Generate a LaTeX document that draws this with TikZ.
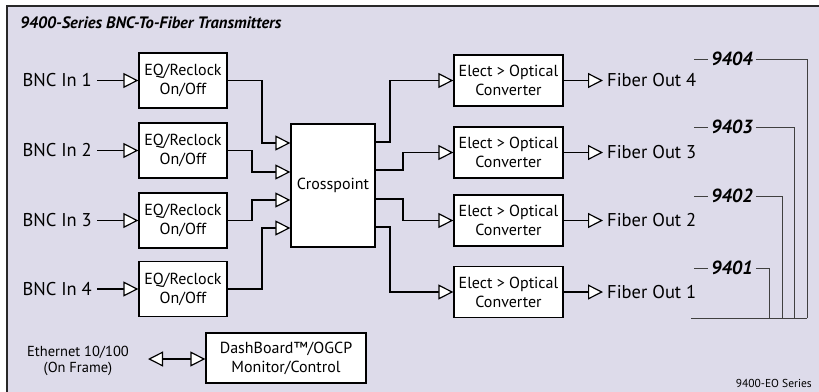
\documentclass[tikz,border=0pt]{standalone}
\usepackage{fontspec}
\setmainfont{PT Sans}
\usetikzlibrary{arrows.meta}
\definecolor{bgc}{RGB}{221,219,234}
\definecolor{framec}{RGB}{40,40,40}
\tikzset{
  blk/.style={draw=black, fill=white, line width=1.3pt, align=center, inner sep=0pt, font=\fontsize{16}{19}\selectfont},
  eqbox/.style={blk, minimum width=88pt, minimum height=55pt},
  eobox/.style={blk, minimum width=109pt, minimum height=51pt},
  lbl/.style={font=\fontsize{18.5}{21}\selectfont, inner sep=0pt},
  mdl/.style={font=\fontsize{19}{22}\selectfont\bfseries\itshape, inner sep=0pt},
  wire/.style={line width=1.3pt, draw=black},
  arr/.style={wire, -{Triangle[fill=white, length=15pt, width=15pt, line width=1.2pt]}},
  darr/.style={wire, {Triangle[fill=white, length=15pt, width=15pt, line width=1.2pt]}-{Triangle[fill=white, length=15pt, width=15pt, line width=1.2pt]}},
  thin/.style={line width=0.9pt, draw=black!75},
}
\begin{document}
\begin{tikzpicture}[x=1pt, y=-1pt]
\useasboundingbox (0,0) rectangle (819,391);
\draw[fill=bgc, draw=framec, line width=2pt] (7,6) rectangle (830,400);
\node[anchor=west, font=\fontsize{16.5}{19}\selectfont\bfseries\itshape, inner sep=0pt] (title) at (20,23) {9400-Series BNC-To-Fiber Transmitters};

% EQ boxes
\foreach \i/\y in {1/80.5, 2/150.5, 3/220.5, 4/289} {
  \node[eqbox] (eq\i) at (183,\y) {EQ/Reclock\\On/Off};
  \node[lbl, anchor=east, inner xsep=5pt] (bnc\i) at (97,\y) {BNC In \i};
  \draw[arr] (bnc\i) -- (eq\i);
}

% Crosspoint
\node[blk, minimum width=84pt, minimum height=123pt] (cp) at (333,185.5) {Crosspoint};
\draw[arr] (eq1.east) -| (262,143) -- (cp.west |- 0,143);
\draw[arr] (eq2.east) -| (252,172) -- (cp.west |- 0,172);
\draw[arr] (eq3.east) -| (252,200) -- (cp.west |- 0,200);
\draw[arr] (eq4.east) -| (262,228) -- (cp.west |- 0,228);

% EO boxes
\foreach \i/\y/\n in {1/80.5/4, 2/152.5/3, 3/220.5/2, 4/292/1} {
  \node[eobox] (eo\i) at (508.5,\y) {Elect > Optical\\Converter};
  \node[lbl, anchor=west, inner xsep=4pt] (fo\i) at (603,\y) {Fiber Out \n};
  \draw[arr] (eo\i) -- (fo\i);
}
\draw[arr] (cp.east |- 0,142) -| (390,80.5) -- (eo1.west);
\draw[arr] (cp.east |- 0,170) -| (403,152.5) -- (eo2.west);
\draw[arr] (cp.east |- 0,199) -| (403,220.5) -- (eo3.west);
\draw[arr] (cp.east |- 0,227) -| (390,292) -- (eo4.west);

% model numbers
\foreach \m/\y/\x in {9404/59/807, 9403/127/794, 9402/196/782, 9401/268/769} {
  \node[mdl, anchor=west, inner xsep=3pt] (m\m) at (708,\y) {\m};
  \coordinate (d\m) at (694,\y);
  \coordinate (b\m) at (\x,318);
  \draw[thin] (d\m) -- (m\m.west);
  \draw[thin] (m\m.east) -| (b\m);
}
\coordinate (bl) at (691,318);
\draw[thin] (bl) -- (b9404);

% DashBoard
\node[blk, minimum width=160pt, minimum height=50pt] (dash) at (286,358) {DashBoard™/OGCP\\Monitor/Control};
\node[align=center, font=\fontsize{14.5}{16}\selectfont, inner sep=0pt] (eth) at (78,361) {Ethernet 10/100\\(On Frame)};
\coordinate (ethp) at (148,359);
\draw[darr] (ethp) -- (dash.west |- ethp);

\node[anchor=east, font=\fontsize{11.5}{13}\selectfont, inner sep=0pt] (ser) at (812,383) {9400-EO Series};
\end{tikzpicture}
\end{document}
